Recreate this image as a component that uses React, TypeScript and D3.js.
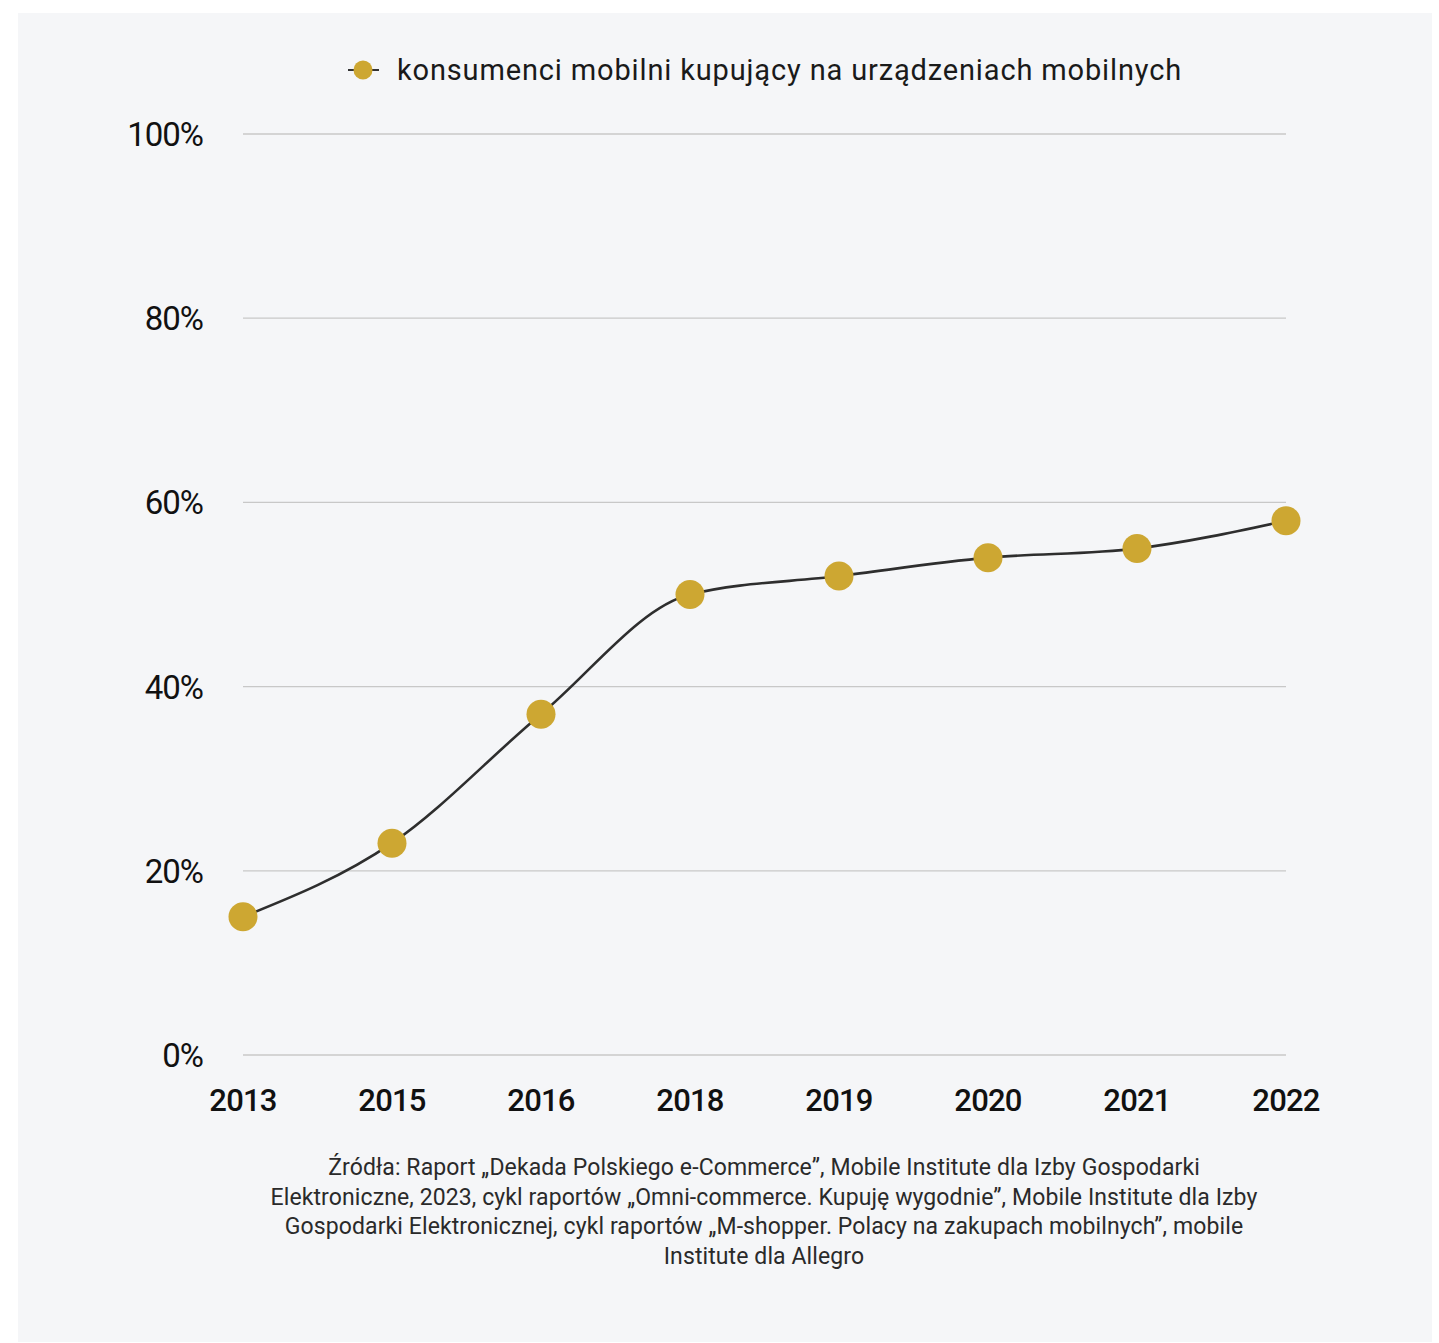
import React from "react";
import * as d3 from "d3";

const years = ["2013", "2015", "2016", "2018", "2019", "2020", "2021", "2022"];
const values = [15, 23, 37, 50, 52, 54, 55, 58];
const yTicks = [0, 20, 40, 60, 80, 100];
const legendLabel = "konsumenci mobilni kupujący na urządzeniach mobilnych";
const sourceLines = [
  "Źródła: Raport „Dekada Polskiego e-Commerce”, Mobile Institute dla Izby Gospodarki",
  "Elektroniczne, 2023, cykl raportów „Omni-commerce. Kupuję wygodnie”, Mobile Institute dla Izby",
  "Gospodarki Elektronicznej, cykl raportów „M-shopper. Polacy na zakupach mobilnych”, mobile",
  "Institute dla Allegro",
];

export default function App() {
  const W = 1439;
  const H = 1343;
  const x = d3.scalePoint<string>().domain(years).range([243, 1286]);
  const y = d3.scaleLinear().domain([0, 100]).range([1055, 134]);
  const line = d3
    .line<number>()
    .x((_, i) => x(years[i]) as number)
    .y((d) => y(d))
    .curve(d3.curveMonotoneX);
  const gold = "#CDA732";
  const font = "Roboto, sans-serif";
  return (
    <svg
      width={W}
      height={H}
      style={{ position: "absolute", left: 0, top: 0, display: "block" }}
    >
      <rect x={0} y={0} width={W} height={H} fill="#ffffff" />
      <rect x={18} y={13} width={1414} height={1329} fill="#F5F6F8" />
      {/* legend */}
      <line x1={348} x2={379} y1={70} y2={70} stroke="#333" strokeWidth={2} />
      <circle cx={363} cy={70} r={9.5} fill={gold} />
      <text
        x={397}
        y={80}
        fontFamily={font}
        fontSize={29}
        letterSpacing={0.85}
        fill="#1a1a1a"
      >
        {legendLabel}
      </text>
      {/* grid */}
      {yTicks.map((t) => (
        <g key={t}>
          <line
            x1={243}
            x2={1286}
            y1={y(t)}
            y2={y(t)}
            stroke="#C8C8C8"
            strokeWidth={1.3}
          />
          <text
            x={203}
            y={y(t) + 12}
            textAnchor="end"
            fontFamily={font}
            fontSize={33}
            fill="#111"
            letterSpacing={-1}
          >
            {t}%
          </text>
        </g>
      ))}
      {years.map((yr) => (
        <text
          key={yr}
          x={x(yr)}
          y={1111}
          textAnchor="middle"
          fontFamily={font}
          fontSize={31}
          fontWeight={500}
          fill="#111"
          letterSpacing={-0.8}
        >
          {yr}
        </text>
      ))}
      <path d={line(values) || ""} fill="none" stroke="#2e2e2e" strokeWidth={2.6} />
      {values.map((v, i) => (
        <circle key={i} cx={x(years[i])} cy={y(v)} r={14.5} fill={gold} />
      ))}
      {sourceLines.map((s, i) => (
        <text
          key={i}
          x={764}
          y={1175 + i * 29.5}
          textAnchor="middle"
          fontFamily={font}
          fontSize={23}
          letterSpacing={0.1}
          fill="#2a2a2a"
        >
          {s}
        </text>
      ))}
    </svg>
  );
}
